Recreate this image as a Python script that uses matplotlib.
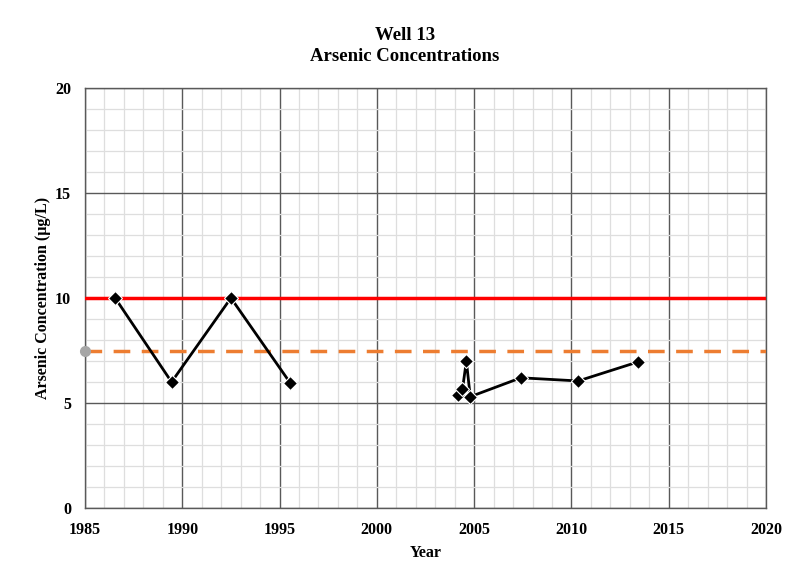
import matplotlib
matplotlib.use("Agg")
import matplotlib.pyplot as plt
from matplotlib.ticker import MultipleLocator
import numpy as np

years = [1986.55, 1989.45, 1992.5, 1995.55, np.nan, 2004.15, 2004.4, 2004.6, 2004.8, 2007.4, 2010.35, 2013.4]
arsenic = [10.0, 6.0, 10.0, 5.95, np.nan, 5.4, 5.65, 7.0, 5.3, 6.2, 6.05, 6.95]
mcl = 10.0
action_level = 7.5
title = "Well 13\nArsenic Concentrations"

plt.rcParams['font.family'] = ['Liberation Serif', 'DejaVu Serif']
fig = plt.figure(figsize=(7.85, 5.64), dpi=100)
ax = fig.add_axes([85/785, 1-508/564, (766-85)/785, (508-88)/564])

ax.set_xlim(1985, 2020)
ax.set_ylim(0, 20)
ax.xaxis.set_major_locator(MultipleLocator(5))
ax.xaxis.set_minor_locator(MultipleLocator(1))
ax.yaxis.set_major_locator(MultipleLocator(5))
ax.yaxis.set_minor_locator(MultipleLocator(1))
ax.grid(which='minor', color='#dedede', linewidth=0.9)
ax.grid(which='major', color='#595959', linewidth=1.0)
ax.set_axisbelow(True)
ax.tick_params(which='both', length=0)
for s in ax.spines.values():
    s.set_color('#595959')
    s.set_linewidth(1.0)

ax.axhline(mcl, color='#ff0000', linewidth=2.5, zorder=3)
ax.axhline(action_level, color='#ed7d31', linewidth=2.5, linestyle=(0, (4.8, 3.3)), zorder=3)
ax.plot([1985], [action_level], 'o', color='#a6a6a6', markersize=7, clip_on=False, zorder=4)

ax.plot(years, arsenic, color='black', linewidth=2, marker='D', markersize=7,
        markeredgecolor='white', markeredgewidth=0.8, zorder=5)

for lab in ax.get_xticklabels() + ax.get_yticklabels():
    lab.set_fontweight('bold')
    lab.set_fontsize(11.5)
ax.tick_params(axis='x', pad=10)
ax.tick_params(axis='y', pad=10)
ax.set_xlabel('Year', fontsize=11.5, fontweight='bold', labelpad=5)
ax.set_ylabel('Arsenic Concentration (µg/L)', fontsize=11.5, fontweight='bold', labelpad=3)
fig.text(405/785, 1-46/564, title, ha='center', va='center', fontsize=13.5, fontweight='bold', linespacing=1.35)

fig.savefig('out.png', dpi=100)
